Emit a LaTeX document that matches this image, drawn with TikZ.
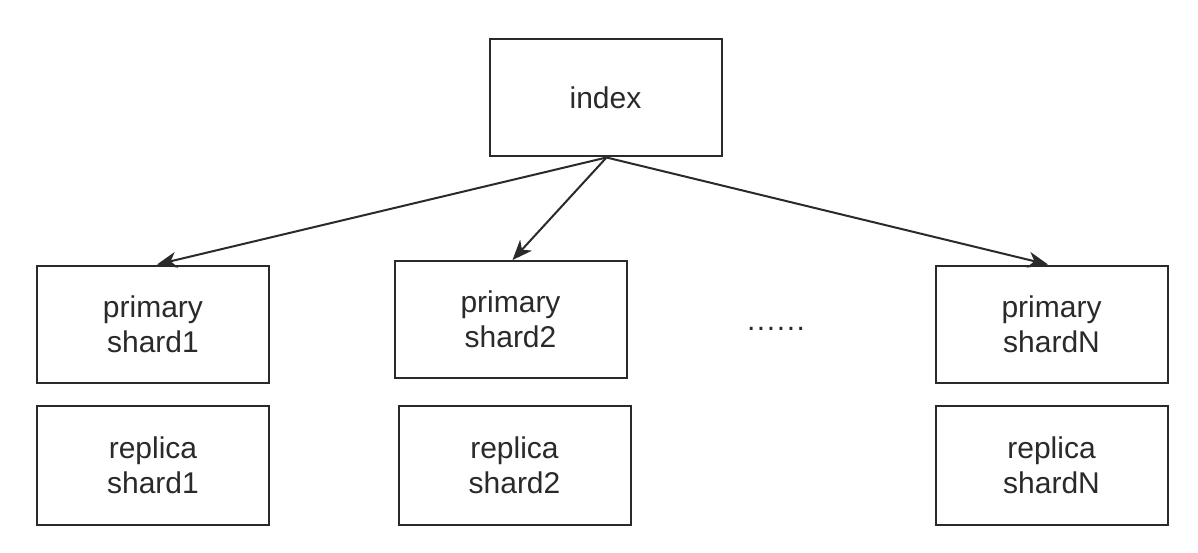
\documentclass[tikz,border=0pt]{standalone}
\usepackage{fontspec}
\setmainfont{Liberation Sans}
\usetikzlibrary{arrows.meta}
\definecolor{ink}{HTML}{2A2A2A}
\begin{document}
\begin{tikzpicture}[x=1pt,y=-1pt,
  box/.style={draw=ink,line width=2pt,rectangle,minimum width=232pt,minimum height=117pt,
    inner sep=0pt,align=center,text=ink,font=\fontsize{30pt}{35pt}\selectfont},
  arr/.style={draw=ink,line width=2pt,-{Stealth[length=20pt,width=16pt,inset=6pt]}}]
\useasboundingbox[fill=white] (0,0) rectangle (1198,553);
\node[box] (index) at (605.5,98) {index};
\node[box] (p1) at (153,324) {primary\\shard1};
\node[box] (p2) at (510.5,319.5) {primary\\shard2};
\node[box] (pN) at (1051.5,324) {primary\\shardN};
\node[box,minimum height=119pt] (r1) at (153,465) {replica\\shard1};
\node[box,minimum height=119pt] (r2) at (514.5,465) {replica\\shard2};
\node[box,minimum height=119pt] (rN) at (1051.5,465) {replica\\shardN};
\node[text=ink,font=\fontsize{30pt}{35pt}\selectfont,inner sep=0pt] (dots) at (776,329) {.\hspace{1.6pt}.\hspace{1.6pt}.\hspace{1.6pt}.\hspace{1.6pt}.\hspace{1.6pt}.};
\draw[arr] ([xshift=1pt]index.south) -- ([xshift=4pt]p1.north);
\draw[arr] ([xshift=1pt]index.south) -- ([xshift=2pt]p2.north);
\draw[arr] ([xshift=1pt]index.south) -- ([xshift=-3.5pt]pN.north);
\end{tikzpicture}
\end{document}
